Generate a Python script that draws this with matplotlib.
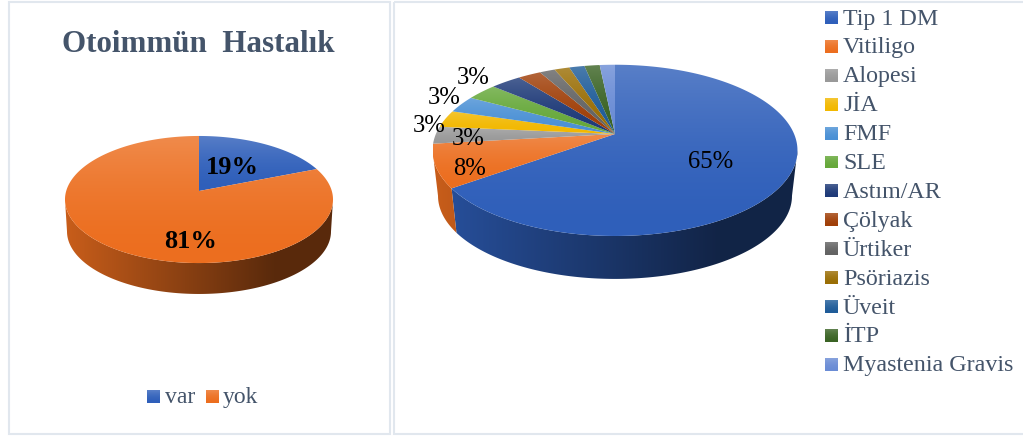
#!/usr/bin/env python3
"""Two 3D-style pie charts: autoimmune disease share and its breakdown."""
import matplotlib
matplotlib.use("Agg")
import matplotlib.pyplot as plt
import numpy as np
from matplotlib.patches import Polygon, Rectangle

plt.rcParams["font.family"] = ["Liberation Serif", "DejaVu Serif"]

W, H = 1023, 436
TEXT_COLOR = "#44546A"
FRAME_COLOR = "#E1E7EE"

overall_labels = ["var", "yok"]
overall_values = [19, 81]
overall_colors = ["#2F5FBA", "#EC6E1F"]

disease_labels = ["Tip 1 DM", "Vitiligo", "Alopesi", "JİA", "FMF", "SLE", "Astım/AR",
                  "Çölyak", "Ürtiker", "Psöriazis", "Üveit", "İTP", "Myastenia Gravis"]
disease_counts = [80, 10, 4, 4, 4, 4, 4, 3, 2, 2, 2, 2, 2]
disease_colors = ["#2F5FBA", "#EC6E1F", "#999999", "#F2B800", "#4A90D5", "#66A83A", "#1E3A78",
                  "#A03F08", "#636363", "#9A6E05", "#1F5C99", "#3A6324", "#6A8CD5"]


def shaded_ramp(color, n):
    # light at the top, fading quickly into the full colour
    rgb = np.array(matplotlib.colors.to_rgb(color))
    amount = 0.2 * (1 - np.linspace(0, 1, n)) ** 1.8
    return rgb + np.outer(amount, 1 - rgb)


def gradient(ax, colors, extent, clip, horizontal=False):
    # colors is an N x 3 ramp, stretched over extent and clipped to the patch
    ramp = np.asarray(colors)[:, None, :]
    if horizontal:
        ramp = ramp.transpose(1, 0, 2)
    im = ax.imshow(ramp, extent=extent, aspect="auto", interpolation="bilinear", zorder=2)
    clip.set_transform(ax.transData)
    im.set_clip_path(clip)


def draw_pie(ax, values, colors, cx, cy, k, p, radius, depth, shrink):
    # tilted disc: perspective pushes the apex above the middle of the ellipse
    def rim(theta, drop=0.0, scale=1.0):
        u, v = np.sin(theta), np.cos(theta)
        w = 1 + p * v
        return np.column_stack([cx + scale * radius * u / w, cy - scale * k * v / w + drop])

    half = radius / np.sqrt(1 - p ** 2)
    edges = 2 * np.pi * np.concatenate([[0], np.cumsum(values)]) / np.sum(values)
    front_start = np.arccos(-p)
    front_end = 2 * np.pi - front_start

    # side wall first, only the front part of the rim is visible
    for i, color in enumerate(colors):
        a, b = max(edges[i], front_start), min(edges[i + 1], front_end)
        if a >= b:
            continue
        th = np.linspace(a, b, 160)
        poly = np.vstack([rim(th), rim(th[::-1], depth, shrink)])
        t = np.clip(np.linspace(0, 1, 256) / 0.78, 0, 1)
        shade = 0.85 + (0.38 - 0.85) * t
        ramp = np.outer(shade, matplotlib.colors.to_rgb(color))
        gradient(ax, ramp, (cx - half, cx + half, cy + k + depth + 40, cy - k),
                 Polygon(poly, closed=True), horizontal=True)

    # top face, each slice shaded on its own height
    for i, color in enumerate(colors):
        th = np.linspace(edges[i], edges[i + 1], 240)
        poly = np.vstack([[cx, cy], rim(th)])
        extent = (poly[:, 0].min(), poly[:, 0].max() + 1, poly[:, 1].max(), poly[:, 1].min())
        gradient(ax, shaded_ramp(color, 128), extent, Polygon(poly, closed=True))


def swatch(ax, x, y, color):
    gradient(ax, shaded_ramp(color, 32), (x, x + 13, y + 13, y), Rectangle((x, y), 13, 13))


def percents(values):
    total = sum(values)
    return [f"{round(100 * v / total)}%" for v in values]


fig = plt.figure(figsize=(W / 100, H / 100), dpi=100, facecolor="white")
ax = fig.add_axes([0, 0, 1, 1])
ax.axis("off")

# panel frames
ax.add_patch(Rectangle((8.5, 2.5), 381, 431, fill=False, ec=FRAME_COLOR, lw=1.5))
ax.add_patch(Rectangle((393.5, 2.5), 640, 431, fill=False, ec=FRAME_COLOR, lw=1.5))

# left panel
ax.text(198.5, 44, "Otoimmün  Hastalık", ha="center", va="center", fontsize=22.3,
        fontweight="bold", color=TEXT_COLOR)
draw_pie(ax, overall_values, overall_colors, 199, 191, 62.4, 0.134, 132.8, 32, 0.985)
overall_text = percents(overall_values)
ax.text(232.5, 167.5, overall_text[0], ha="center", va="center", fontsize=19, fontweight="bold",
        color="black", zorder=5)
ax.text(190.5, 241.5, overall_text[1], ha="center", va="center", fontsize=19, fontweight="bold",
        color="black", zorder=5)

swatch(ax, 147, 390, overall_colors[0])
ax.text(165, 397.5, overall_labels[0], va="center", fontsize=17, color=TEXT_COLOR)
swatch(ax, 206, 390, overall_colors[1])
ax.text(223, 397.5, overall_labels[1], va="center", fontsize=17, color=TEXT_COLOR)

# right panel
draw_pie(ax, disease_counts, disease_colors, 615, 134, 82.5, 0.191, 179.1, 46, 0.97)
disease_text = percents(disease_counts)
label_pos = [(711, 162), (470, 169), (468, 139), (429, 126), (444, 98), (473, 78)]
for text, (x, y) in zip(disease_text, label_pos):
    ax.text(x, y, text, ha="center", va="center", fontsize=17.7, color="black", zorder=5)

for i, (name, color) in enumerate(zip(disease_labels, disease_colors)):
    y = 17.5 + i * 28.9
    swatch(ax, 825, y - 6.5, color)
    ax.text(843, y + 1.5, name, va="center", fontsize=17.3, color=TEXT_COLOR)

ax.set_xlim(0, W)
ax.set_ylim(H, 0)
fig.savefig("out.png", dpi=100)
plt.close(fig)
